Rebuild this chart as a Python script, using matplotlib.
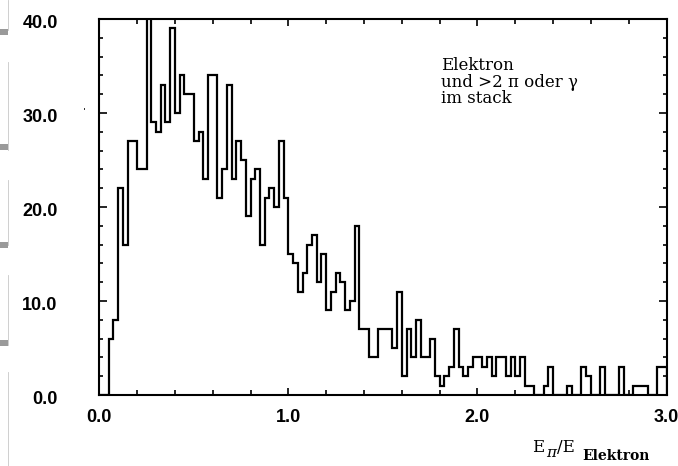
import numpy as np
import matplotlib
matplotlib.use("Agg")
import matplotlib.pyplot as plt
import matplotlib.transforms as mtransforms
from matplotlib.patches import Rectangle
from matplotlib.lines import Line2D
from matplotlib.ticker import FixedLocator, MultipleLocator, FormatStrFormatter

# Histogram contents: 120 bins of width 0.025 between 0 and 3
counts = [
    0, 0, 6, 8, 22, 16, 27, 27, 24, 24,
    43, 29, 28, 33, 29, 39, 30, 34, 32, 32,
    27, 28, 23, 34, 34, 21, 24, 33, 23, 27,
    25, 19, 23, 24, 16, 21, 22, 20, 27, 21,
    15, 14, 11, 13, 16, 17, 12, 15, 9, 11,
    13, 12, 9, 10, 18, 7, 7, 4, 4, 7,
    7, 7, 5, 11, 2, 7, 4, 8, 4, 4,
    6, 2, 1, 2, 3, 7, 3, 2, 3, 4,
    4, 3, 4, 2, 4, 4, 2, 4, 2, 4,
    1, 1, 0, 0, 1, 3, 0, 0, 0, 1,
    0, 0, 3, 2, 0, 0, 3, 0, 0, 0,
    3, 0, 0, 1, 1, 1, 0, 0, 3, 3,
]
x_range = (0.0, 3.0)
y_range = (0.0, 40.0)
x_major = [0.0, 1.0, 2.0, 3.0]
y_major = [0.0, 10.0, 20.0, 30.0, 40.0]
note_lines = ["Elektron", "und >2 \u03c0 oder \u03b3", "im stack"]

edges = np.linspace(x_range[0], x_range[1], len(counts) + 1)

W, H = 678, 466
fig = plt.figure(figsize=(W / 100, H / 100), dpi=100)
fig.patch.set_facecolor("white")


def fx(px):
    return px / W


def fy(py):
    return 1 - py / H


# faint punch-strip marks along the left page edge
for y0, y1 in [(0, 30), (62, 150), (180, 245), (275, 345), (372, 466)]:
    fig.add_artist(Line2D([fx(7.5), fx(7.5)], [fy(y0), fy(y1)],
                          transform=fig.transFigure, color="#c8c8c8", lw=0.6))
for yc in [32, 147, 245, 343]:
    fig.add_artist(Rectangle((fx(0), fy(yc + 3)), fx(8), 6 / H,
                             transform=fig.transFigure, facecolor="#9a9a9a",
                             edgecolor="none"))
fig.add_artist(Rectangle((fx(83.5), fy(109.5)), 1.5 / W, 1.5 / H,
                         transform=fig.transFigure, facecolor="#333333",
                         edgecolor="none"))

# axes frame in pixel terms: left 99, right 666, top 19, bottom 395
ax = fig.add_axes([fx(99.3), fy(395), (666.5 - 99.3) / W, (395 - 19) / H])

ax.stairs(counts, edges, baseline=0, color="black", lw=1.6, joinstyle="miter")

ax.set_xlim(*x_range)
ax.set_ylim(*y_range)

for s in ax.spines.values():
    s.set_linewidth(1.5)

ax.xaxis.set_major_locator(FixedLocator(x_major))
ax.xaxis.set_minor_locator(MultipleLocator(0.2))
ax.yaxis.set_major_locator(FixedLocator(y_major))
ax.yaxis.set_minor_locator(MultipleLocator(2.0))
ax.xaxis.set_major_formatter(FormatStrFormatter("%.1f"))
ax.yaxis.set_major_formatter(FormatStrFormatter("%.1f"))

ax.tick_params(which="both", direction="in", top=True, right=True,
               width=1.2, color="black")
ax.tick_params(axis="y", which="major", length=6, pad=30)
ax.tick_params(axis="y", which="minor", length=3)
ax.tick_params(axis="x", which="major", length=5, pad=10)
ax.tick_params(axis="x", which="minor", length=3.5)

shift_down = mtransforms.ScaledTranslation(0, -2.5 / 100, fig.dpi_scale_trans)
for lab in ax.get_yticklabels():
    lab.set_transform(lab.get_transform() + shift_down)
for lab in ax.get_xticklabels() + ax.get_yticklabels():
    lab.set_fontfamily("Liberation Sans")
    lab.set_fontsize(13)
    lab.set_fontweight("bold")

# note inside the frame
note_x = 1.806
note_y = [34.55, 32.78, 31.02]
for txt, yy in zip(note_lines, note_y):
    ax.text(note_x, yy, txt, fontfamily="DejaVu Serif", fontsize=12,
            va="baseline", ha="left", color="black")

# axis title E_pi / E_Elektron built from pieces
fig.text(fx(532), fy(452), "E", fontfamily="DejaVu Serif", fontsize=12,
         va="baseline", ha="left")
fig.text(fx(546), fy(457), "\u03c0", fontfamily="DejaVu Serif", fontsize=11,
         fontstyle="italic", va="baseline", ha="left")
fig.text(fx(557), fy(452), "/E", fontfamily="DejaVu Serif", fontsize=12,
         va="baseline", ha="left")
fig.text(fx(582), fy(460), "Elektron", fontfamily="DejaVu Serif", fontsize=10,
         fontweight="bold", va="baseline", ha="left")

fig.savefig("out.png", dpi=100, facecolor="white")
